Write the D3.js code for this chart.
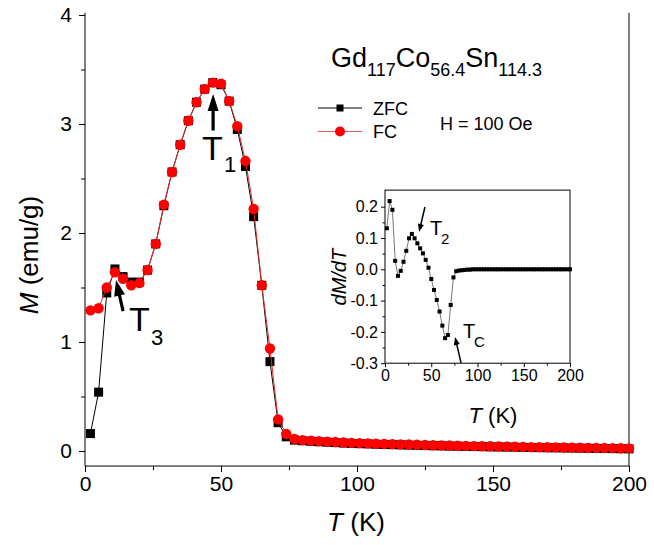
<!DOCTYPE html>
<html>
<head>
<meta charset="utf-8">
<script src="https://cdn.jsdelivr.net/npm/d3@7"></script>
<style>
body { margin:0; background:#fff; }
svg text { font-family: Arial, "Liberation Sans", sans-serif; fill:#000; }
</style>
</head>
<body>
<svg id="chart" width="654" height="545"></svg>
<script>
// temperatures (K), same grid for both curves and the derivative
var Temps = [2,5,8,11,14,17,20,23,26,29,32,35,38,41,44,47,50,53,56,59,62,65,68,71,74,77,
	80,83,86,89,92,95,98,101,104,107,110,113,116,119,122,125,128,131,134,137,140,143,146,149,
	152,155,158,161,164,167,170,173,176,179,182,185,188,191,194,197,200];

// M (emu/g), zero field cooled
var ZFC = [0.16,0.54,1.45,1.67,1.60,1.55,1.55,1.66,1.90,2.25,2.56,2.81,3.03,3.20,3.32,3.38,3.36,3.21,2.95,2.61,2.15,1.52,0.82,0.26,0.13,0.10,
	0.094,0.089,0.085,0.081,0.077,0.073,0.070,0.067,0.065,0.062,
	0.060,0.058,0.056,0.054,0.052,0.050,0.048,0.047,0.045,0.044,
	0.042,0.041,0.040,0.038,0.037,0.036,0.035,0.033,0.032,0.031,
	0.030,0.029,0.028,0.027,0.026,0.025,0.024,0.023,0.022,0.021,
	0.020];

// M (emu/g), field cooled
var FC = [1.29,1.31,1.50,1.64,1.58,1.52,1.54,1.66,1.90,2.26,2.56,2.81,3.03,3.20,3.32,3.38,3.37,3.21,2.98,2.66,2.22,1.52,0.94,0.29,0.156,0.11,
	0.100,0.094,0.090,0.086,0.082,0.078,0.075,0.072,0.070,0.067,
	0.065,0.063,0.061,0.059,0.057,0.055,0.053,0.051,0.050,0.048,
	0.047,0.045,0.044,0.043,0.041,0.040,0.039,0.038,0.036,0.035,
	0.034,0.033,0.032,0.031,0.030,0.029,0.028,0.027,0.026,0.025,
	0.024];

// dM/dT for the inset
var DMDT = [0.131,0.218,0.190,0.027,-0.021,-0.005,0.024,0.059,0.099,0.113,0.099,0.083,0.067,0.051,0.030,0.005,-0.031,-0.066,-0.098,-0.135,-0.180,-0.220,-0.210,-0.114,-0.026,-0.006,
	-0.004,-0.003,-0.002,-0.001,-0.001,0,0,0,0,0,
	0,0,0,0,0,0,0,0,0,0,
	0,0,0,0,0,0,0,0,0,0,
	0,0,0,0,0,0,0,0,0,0,
	0];

var MainXTicks = [0,50,100,150,200], MainXMinor = [25,75,125,175];
var MainYTicks = [0,1,2,3,4], MainYMinor = [0.5,1.5,2.5,3.5];
var InsetXTicks = [0,50,100,150,200], InsetXMinor = [25,75,125,175];
var InsetYTicks = [-0.3,-0.2,-0.1,0,0.1,0.2], InsetYMinor = [-0.25,-0.15,-0.05,0.05,0.15];

var svg = d3.select("#chart");

function Zip(xs, ys) { return xs.map(function(d,i) { return [d, ys[i]]; }); }

function StyleAxis(g, size) {
	g.select(".domain").remove();
	g.selectAll("line").attr("stroke","#000").attr("stroke-width",1);
	g.selectAll("text").attr("font-size",size).attr("font-family","Arial, 'Liberation Sans', sans-serif").attr("fill","#000");
}

//arrow = shaft + filled triangular head ending at (x2,y2)
function DrawArrow(g, x1, y1, x2, y2, lw, headLen, headW) {
	var dx = x2-x1, dy = y2-y1, len = Math.sqrt(dx*dx+dy*dy);
	var ux = dx/len, uy = dy/len;
	var bx = x2-ux*headLen, by = y2-uy*headLen;
	g.append("line").attr("x1",x1).attr("y1",y1).attr("x2",bx+ux*1).attr("y2",by+uy*1)
		.attr("stroke","#000").attr("stroke-width",lw);
	g.append("path")
		.attr("d","M"+x2+","+y2+"L"+(bx-uy*headW/2)+","+(by+ux*headW/2)+"L"+(bx+uy*headW/2)+","+(by-ux*headW/2)+"Z")
		.attr("fill","#000");
}

// ---------- main panel ----------
var x = d3.scaleLinear().domain([0,200]).range([85,629]);
var y = d3.scaleLinear().domain([0,4]).range([451,15]);
var yBottom = y(-0.138), yTop = y(4.02);

var gy = svg.append("g").attr("transform","translate("+x(0)+",0)")
	.call(d3.axisLeft(y).tickValues(MainYTicks).tickSize(6).tickPadding(7).tickFormat(d3.format("d")));
StyleAxis(gy, 21);
svg.append("g").attr("transform","translate("+x(0)+",0)")
	.call(d3.axisLeft(y).tickValues(MainYMinor).tickSize(4).tickFormat(""))
	.call(StyleAxis, 21);

var gx = svg.append("g").attr("transform","translate(0,"+yBottom+")")
	.call(d3.axisBottom(x).tickValues(MainXTicks).tickSize(6).tickPadding(4).tickFormat(d3.format("d")));
StyleAxis(gx, 21);
svg.append("g").attr("transform","translate(0,"+yBottom+")")
	.call(d3.axisBottom(x).tickValues(MainXMinor).tickSize(4).tickFormat(""))
	.call(StyleAxis, 21);

// frame: left, bottom, right
svg.append("path")
	.attr("d","M"+x(0)+","+yTop+"V"+yBottom+"H"+x(200)+"V"+yTop)
	.attr("fill","none").attr("stroke","#000").attr("stroke-width",1);

var line = d3.line().x(function(d) { return x(d[0]); }).y(function(d) { return y(d[1]); });

var zfcData = Zip(Temps, ZFC), fcData = Zip(Temps, FC);

svg.append("path").datum(zfcData).attr("d",line).attr("fill","none").attr("stroke","#000").attr("stroke-width",1);
svg.append("g").selectAll("rect").data(zfcData).enter().append("rect")
	.attr("x",function(d) { return x(d[0])-4.5; }).attr("y",function(d) { return y(d[1])-4.5; })
	.attr("width",9).attr("height",9).attr("fill","#000");

svg.append("path").datum(fcData).attr("d",line).attr("fill","none").attr("stroke","#e8262a").attr("stroke-width",1);
svg.append("g").selectAll("circle").data(fcData).enter().append("circle")
	.attr("cx",function(d) { return x(d[0]); }).attr("cy",function(d) { return y(d[1]); })
	.attr("r",5.2).attr("fill","#ff0000");

// axis titles
svg.append("text").attr("x",356).attr("y",531).attr("text-anchor","middle").attr("font-size",26)
	.html('<tspan font-style="italic">T</tspan> (K)');
svg.append("text").attr("transform","translate(38,255) rotate(-90)").attr("text-anchor","middle").attr("font-size",26)
	.html('<tspan font-style="italic">M</tspan> (emu/g)');

// compound name
svg.append("text").attr("x",331).attr("y",67).attr("font-size",27)
	.html('Gd<tspan font-size="18" dy="9">117</tspan><tspan dy="-9">Co</tspan><tspan font-size="18" dy="9">56.4</tspan><tspan dy="-9">Sn</tspan><tspan font-size="18" dy="9">114.3</tspan>');

// legend
var legend = svg.append("g");
legend.append("line").attr("x1",318).attr("x2",362).attr("y1",108).attr("y2",108).attr("stroke","#000").attr("stroke-width",1);
legend.append("rect").attr("x",336.5).attr("y",104.5).attr("width",7).attr("height",7).attr("fill","#000");
legend.append("text").attr("x",373).attr("y",115).attr("font-size",18).text("ZFC");
legend.append("line").attr("x1",318).attr("x2",362).attr("y1",131.5).attr("y2",131.5).attr("stroke","#e06060").attr("stroke-width",1);
legend.append("circle").attr("cx",340).attr("cy",131.5).attr("r",5).attr("fill","#ff0000");
legend.append("text").attr("x",373).attr("y",138).attr("font-size",18).text("FC");
legend.append("text").attr("x",440).attr("y",130).attr("font-size",18).text("H = 100 Oe");

// T1 and T3 markers
DrawArrow(svg, x(47.1), y(2.94), x(47.1), y(3.275), 3.2, 17, 11);
svg.append("text").attr("x",x(43.0)).attr("y",y(2.67)).attr("font-size",34).text("T");
svg.append("text").attr("x",x(51.1)).attr("y",y(2.56)).attr("font-size",22).text("1");

DrawArrow(svg, x(14.0), y(1.284), x(11.4), y(1.569), 3.2, 16, 11);
svg.append("text").attr("x",x(16.2)).attr("y",y(1.10)).attr("font-size",34).text("T");
svg.append("text").attr("x",x(24.3)).attr("y",y(0.972)).attr("font-size",22).text("3");

// ---------- inset ----------
var ix = d3.scaleLinear().domain([0,200]).range([385,570]);
var iy = d3.scaleLinear().domain([0,0.1]).range([269.3,238]);
var iTop = iy(0.253), iBottom = iy(-0.3);

var inset = svg.append("g");
inset.append("rect").attr("x",ix(0)).attr("y",iTop).attr("width",ix(200)-ix(0)).attr("height",iBottom-iTop)
	.attr("fill","#fff").attr("stroke","#000").attr("stroke-width",1);

inset.append("g").attr("transform","translate("+ix(0)+",0)")
	.call(d3.axisLeft(iy).tickValues(InsetYTicks).tickSize(4).tickPadding(3).tickFormat(function(d) { return d.toFixed(1); }))
	.call(StyleAxis, 16);
inset.append("g").attr("transform","translate("+ix(0)+",0)")
	.call(d3.axisLeft(iy).tickValues(InsetYMinor).tickSize(2.5).tickFormat(""))
	.call(StyleAxis, 16);
inset.append("g").attr("transform","translate(0,"+iBottom+")")
	.call(d3.axisBottom(ix).tickValues(InsetXTicks).tickSize(4).tickPadding(2).tickFormat(d3.format("d")))
	.call(StyleAxis, 16);
inset.append("g").attr("transform","translate(0,"+iBottom+")")
	.call(d3.axisBottom(ix).tickValues(InsetXMinor).tickSize(2.5).tickFormat(""))
	.call(StyleAxis, 16);

var iline = d3.line().x(function(d) { return ix(d[0]); }).y(function(d) { return iy(d[1]); });
var dData = Zip(Temps, DMDT);
inset.append("path").datum(dData).attr("d",iline).attr("fill","none").attr("stroke","#777").attr("stroke-width",1);
inset.append("g").selectAll("rect").data(dData).enter().append("rect")
	.attr("x",function(d) { return ix(d[0])-2; }).attr("y",function(d) { return iy(d[1])-2; })
	.attr("width",4).attr("height",4).attr("fill","#000");

inset.append("text").attr("transform","translate(346,"+iy(-0.025)+") rotate(-90)").attr("text-anchor","middle")
	.attr("font-size",20).attr("font-style","italic").text("dM/dT");
inset.append("text").attr("x",493).attr("y",423).attr("text-anchor","middle").attr("font-size",22)
	.html('<tspan font-style="italic">T</tspan> (K)');

// T2 and Tc markers
DrawArrow(inset, ix(43.2), iy(0.199), ix(36.8), iy(0.119), 1.5, 8, 6);
inset.append("text").attr("x",ix(48.6)).attr("y",iy(0.110)).attr("font-size",20).text("T");
inset.append("text").attr("x",ix(60.5)).attr("y",iy(0.081)).attr("font-size",15).text("2");

DrawArrow(inset, ix(82.2), iy(-0.299), ix(75.7), iy(-0.216), 1.5, 8, 6);
inset.append("text").attr("x",ix(84.3)).attr("y",iy(-0.219)).attr("font-size",20).text("T");
inset.append("text").attr("x",ix(96.2)).attr("y",iy(-0.248)).attr("font-size",15).text("C");
</script>
</body>
</html>
